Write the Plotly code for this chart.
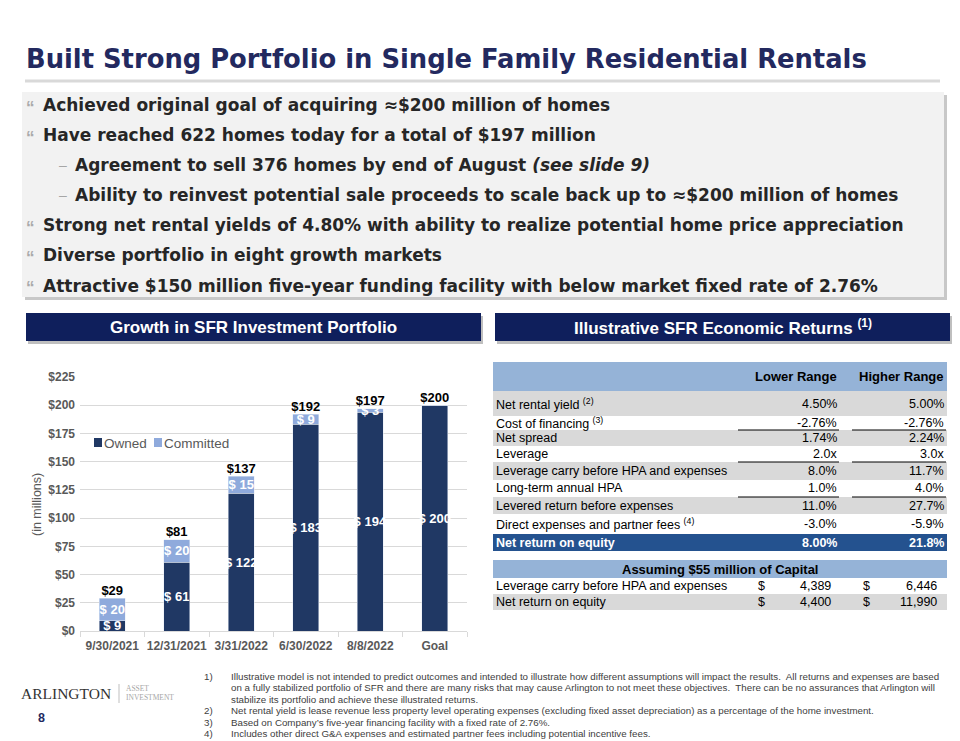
import plotly.graph_objects as go

# ---------------- data ----------------
categories = ["9/30/2021", "12/31/2021", "3/31/2022", "6/30/2022", "8/8/2022", "Goal"]
owned = [9, 61, 122, 183, 194, 200]
committed = [20, 20, 15, 9, 3, 0]
totals = [29, 81, 137, 192, 197, 200]
y_ticks = [0, 25, 50, 75, 100, 125, 150, 175, 200, 225]
series_names = ["Owned", "Committed"]

row_labels = ["Net rental yield", "Cost of financing", "Net spread", "Leverage",
              "Leverage carry before HPA and expenses", "Long-term annual HPA",
              "Levered return before expenses", "Direct expenses and partner fees",
              "Net return on equity"]
row_notes = ["(2)", "(3)", "", "", "", "", "", "(4)", ""]
lower_range = ["4.50%", "-2.76%", "1.74%", "2.0x", "8.0%", "1.0%", "11.0%", "-3.0%", "8.00%"]
higher_range = ["5.00%", "-2.76%", "2.24%", "3.0x", "11.7%", "4.0%", "27.7%", "-5.9%", "21.8%"]

capital_labels = ["Leverage carry before HPA and expenses", "Net return on equity"]
capital_lower = ["4,389", "4,400"]
capital_higher = ["6,446", "11,990"]

bullets = [
    (1, "Achieved original goal of acquiring \u2248$200 million of homes"),
    (1, "Have reached 622 homes today for a total of $197 million"),
    (2, "Agreement to sell 376 homes by end of August <i>(see slide 9)</i>"),
    (2, "Ability to reinvest potential sale proceeds to scale back up to \u2248$200 million of homes"),
    (1, "Strong net rental yields of 4.80% with ability to realize potential home price appreciation"),
    (1, "Diverse portfolio in eight growth markets"),
    (1, "Attractive $150 million five-year funding facility with below market fixed rate of 2.76%"),
]

footnotes = [
    ("1)", ["Illustrative model is not intended to predict outcomes and intended to illustrate how different assumptions will impact the results.  All returns and expenses are based",
            "on a fully stabilized portfolio of SFR and there are many risks that may cause Arlington to not meet these objectives.  There can be no assurances that Arlington will",
            "stabilize its portfolio and achieve these illustrated returns."]),
    ("2)", ["Net rental yield is lease revenue less property level operating expenses (excluding fixed asset depreciation) as a percentage of the home investment."]),
    ("3)", ["Based on Company\u2019s five-year financing facility with a fixed rate of 2.76%."]),
    ("4)", ["Includes other direct G&A expenses and estimated partner fees including potential incentive fees."]),
]

# ---------------- styles ----------------
W, H = 960, 741
NAVY = "#0F1F5C"
TITLE_C = "#23295F"
OWNED_C = "#203864"
COMMIT_C = "#8FAADC"
TXT = "#262626"
GRAY = "#595959"
FONT = "Liberation Sans"
WIDE = "DejaVu Sans"


def X(px):
    return px / W


def Y(py):
    return 1 - py / H


shapes = []
annotations = []


def rect(x0, y0, x1, y1, color):
    shapes.append(dict(type="rect", xref="paper", yref="paper",
                       x0=X(x0), x1=X(x1), y0=Y(y1), y1=Y(y0),
                       fillcolor=color, line=dict(width=0), layer="below"))


def hline(x0, x1, y, color, width=1):
    shapes.append(dict(type="line", xref="paper", yref="paper",
                       x0=X(x0), x1=X(x1), y0=Y(y), y1=Y(y),
                       line=dict(color=color, width=width)))


def text(x, y, s, size, color=TXT, bold=False, xanchor="left", family=FONT, **kw):
    if bold:
        s = "<b>" + s + "</b>"
    annotations.append(dict(xref="paper", yref="paper", x=X(x), y=Y(y), text=s,
                            showarrow=False, xanchor=xanchor, yanchor="middle",
                            borderpad=0,
                            font=dict(size=size, color=color, family=family), **kw))


# Title and rule
text(25, 59, "Built Strong Portfolio in Single Family Residential Rentals", 25.8, TITLE_C,
     bold=True, family=WIDE)
hline(25, 940, 81, "#D9D9D9", 3)

# Bullet box with shadow
rect(25, 95, 947, 300, "#C8C8C8")
rect(22, 92, 944, 297, "#F2F2F2")
bullet_y0, bullet_dy = 105, 30.1
for i, (lvl, s) in enumerate(bullets):
    yy = bullet_y0 + i * bullet_dy
    if lvl == 1:
        text(25, yy + 2, "\u201c", 17, "#AAAAAA", family=FONT, bold=True)
        text(42, yy, s, 17, TXT, bold=True, family=WIDE)
    else:
        text(58, yy, "\u2013", 14, "#A6A6A6")
        text(74, yy, s, 17, TXT, bold=True, family=WIDE)

# Section header bars
for (x0, x1, label) in [(26, 481, "Growth in SFR Investment Portfolio"),
                        (495, 950, "Illustrative SFR Economic Returns <sup>(1)</sup>")]:
    rect(x0 + 2, 316, x1 + 2, 344, "#BFBFBF")
    rect(x0, 313, x1, 341, NAVY)
    text((x0 + x1) / 2, 327, label, 17, "white", bold=True, xanchor="center")

# Y axis title
annotations.append(dict(xref="paper", yref="paper", x=X(37), y=Y(505),
                        text="(in millions)", textangle=-90, showarrow=False,
                        xanchor="center", yanchor="middle",
                        font=dict(size=12.5, color=GRAY, family=FONT)))

# Legend (compact, as in the reference)
legend_colors = [OWNED_C, COMMIT_C]
legend_x = [94, 154]
for name, col, lx in zip(series_names, legend_colors, legend_x):
    rect(lx, 438, lx + 8, 447, col)
    text(lx + 9, 443, name, 13.5, GRAY)

# ---------------- table ----------------
TL, TR = 493, 947
row_tops = [391, 416, 430, 446, 462, 480, 497, 514, 534]
row_bots = [416, 430, 446, 462, 480, 497, 514, 534, 551]
row_fill = ["#D9D9D9", "white", "#D9D9D9", "white", "#D9D9D9", "white", "#D9D9D9", "white", "#24528F"]
rect(TL, 362, TR, 391, "#95B3D7")
text(838, 376, "Lower Range", 13, "black", bold=True, xanchor="right")
text(945, 376, "Higher Range", 13, "black", bold=True, xanchor="right")
for i, lab in enumerate(row_labels):
    top, bot = row_tops[i], row_bots[i]
    rect(TL, top, TR, bot, row_fill[i])
    last = i == len(row_labels) - 1
    col = "white" if last else "black"
    yy = (top + bot) / 2
    lab_txt = lab + (" <sup>" + row_notes[i] + "</sup>" if row_notes[i] else "")
    text(495, yy, lab_txt, 12.5, col, bold=last)
    text(838, yy, lower_range[i], 12.5, col, bold=last, xanchor="right")
    text(945, yy, higher_range[i], 12.5, col, bold=last, xanchor="right")
for i in (1, 3, 5):
    hline(738, 839, row_bots[i], "black", 1)
    hline(852, 946, row_bots[i], "black", 1)

# capital table
rect(TL, 560, TR, 578, "#95B3D7")
text(720, 569, "Assuming $55 million of Capital", 13, "black", bold=True, xanchor="center")
cap_tops = [578, 594]
cap_bots = [594, 610]
for i, lab in enumerate(capital_labels):
    top, bot = cap_tops[i], cap_bots[i]
    rect(TL, top, TR, bot, "white" if i == 0 else "#D9D9D9")
    yy = (top + bot) / 2
    text(495, yy, lab, 12.5, "black")
    text(757, yy, "$", 12.5, "black")
    text(832, yy, capital_lower[i], 12.5, "black", xanchor="right")
    text(862, yy, "$", 12.5, "black")
    text(938, yy, capital_higher[i], 12.5, "black", xanchor="right")

# ---------------- footnotes / logo ----------------
fy, fdy = 676, 11.5
k = 0
for num, lines in footnotes:
    text(203, fy + k * fdy, num, 9.75, "#404040")
    for ln in lines:
        text(230, fy + k * fdy, ln, 9.75, "#404040")
        k += 1

text(20, 693, "ARLINGTON", 15.5, "#333333", family="Liberation Serif")
shapes.append(dict(type="line", xref="paper", yref="paper", x0=X(119), x1=X(119),
                   y0=Y(703), y1=Y(684), line=dict(color="#BFBFBF", width=1)))
text(125, 688, "ASSET", 7.5, "#A6A6A6", family="Liberation Serif")
text(125, 697, "INVESTMENT", 7.5, "#A6A6A6", family="Liberation Serif")
text(37, 718, "8", 12.5, TITLE_C, bold=True)

# ---------------- chart ----------------
fig = go.Figure()
for name, vals, col in [(series_names[0], owned, OWNED_C), (series_names[1], committed, COMMIT_C)]:
    fig.add_trace(go.Bar(
        name=name, x=categories, y=vals, marker_color=col, showlegend=False,
        text=["$ %d" % v if v else "" for v in vals], textposition="inside", textangle=0,
        insidetextanchor="middle", constraintext="none",
        insidetextfont=dict(color="white", size=13, family=FONT),
        texttemplate="<b>%{text}</b>", hoverinfo="skip"))
fig.add_trace(go.Scatter(
    x=categories, y=totals, mode="text", text=["<b>$%d</b>" % v for v in totals],
    textposition="top center", textfont=dict(size=13, color="black", family=FONT),
    showlegend=False, hoverinfo="skip"))

fig.update_layout(
    width=W, height=H, autosize=False,
    margin=dict(l=0, r=0, t=0, b=0, pad=0, autoexpand=False),
    paper_bgcolor="white", plot_bgcolor="rgba(0,0,0,0)",
    barmode="stack", bargap=0.6,
    uniformtext=dict(mode="show", minsize=13),
    font=dict(family=FONT, color=GRAY),
    showlegend=False,
    xaxis=dict(domain=[X(80), X(467)], type="category", tickangle=0, automargin=False,
               showline=True, linecolor="#D9D9D9", linewidth=1,
               ticks="outside", tickson="boundaries", ticklen=5, tickcolor="#D9D9D9",
               ticklabelstandoff=4,
               tickfont=dict(size=12, color=GRAY, family=FONT),
               tickprefix="<b>", ticksuffix="</b>", showgrid=False, fixedrange=True),
    yaxis=dict(domain=[Y(631), Y(377)], range=[0, 225], tickvals=y_ticks, automargin=False,
               ticktext=["<b>$%d</b>" % v for v in y_ticks],
               tickfont=dict(size=12, color=GRAY, family=FONT),
               showgrid=True, gridcolor="#D9D9D9", gridwidth=1, zeroline=False,
               showline=False, ticks="", ticklabelstandoff=4, fixedrange=True),
    shapes=shapes, annotations=annotations,
)

fig.write_html("out.html", config={"displayModeBar": False},
               post_script="document.body.style.margin='0';document.body.style.overflow='hidden';")
